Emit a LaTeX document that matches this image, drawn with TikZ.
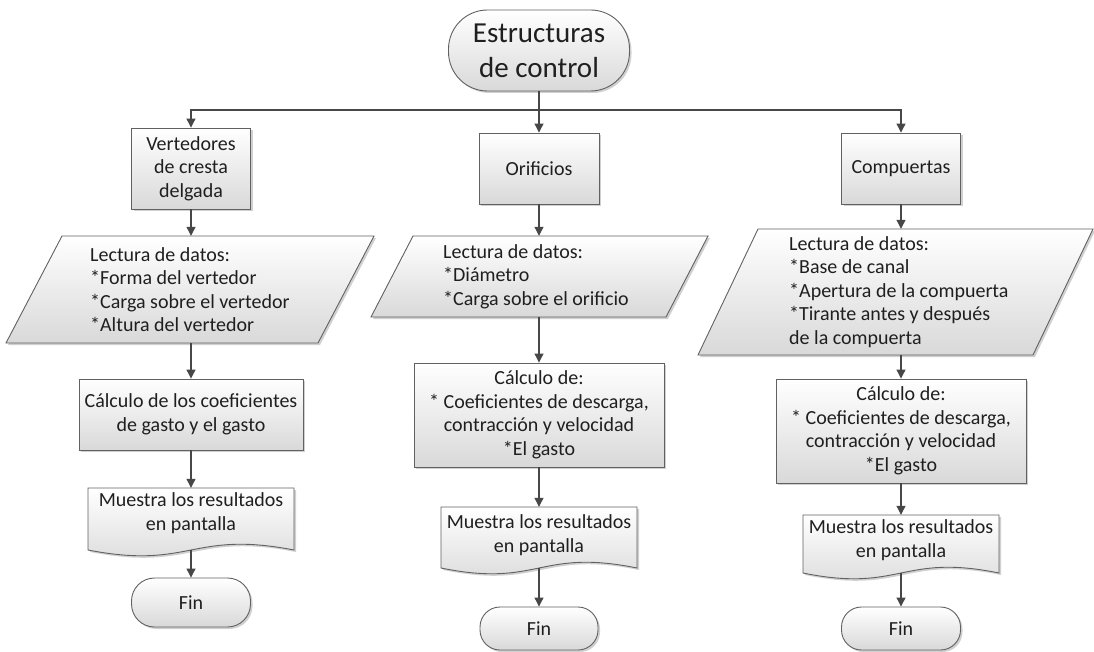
\documentclass[tikz,border=0pt]{standalone}
\usepackage{fontspec}
\setmainfont{Carlito}
\usetikzlibrary{arrows.meta,shadows,calc}
\newcommand\myBody{\fontsize{20}{23.5}\selectfont}
\newcommand\myTitle{\fontsize{29}{35}\selectfont}
\begin{document}
\begin{tikzpicture}[x=1pt,y=-1pt,
  shp/.style={draw=black!62, line width=0.9pt, top color=white, bottom color=black!15,
    drop shadow={shadow xshift=2pt,shadow yshift=-2pt,opacity=0.3,fill=black!60}},
  procbox/.style={shp, rectangle, inner sep=2pt, align=center, font=\myBody, text=black!88},
  termbox/.style={shp, rectangle, inner sep=2pt, align=center, font=\myBody, text=black!88},
  txtbox/.style={inner sep=0pt, font=\myBody, text=black!88},
  arr/.style={draw=black!72, line width=1.1pt, -{Triangle[length=9pt,width=9pt]}},
]
\useasboundingbox[fill=white] (0,0) rectangle (1094,652);

% ---- shapes drawn as paths (parallelograms, documents)
\path[shp] (62,236) -- (374,236) -- (318,343) -- (6,343) -- cycle;
\path[shp] (413,236) -- (708,236) -- (666,317) -- (371,317) -- cycle;
\path[shp] (758,229) -- (1093,229) -- (1033,355) -- (698,355) -- cycle;
\path[shp] (88,488) -- (294,488) -- (294,550) .. controls (191,530) and (191,570) .. (88,550) -- cycle;
\path[shp] (441,507) -- (637,507) -- (637,568) .. controls (539,548) and (539,588) .. (441,568) -- cycle;
\path[shp] (803,515) -- (999,515) -- (999,573) .. controls (901,553) and (901,593) .. (803,573) -- cycle;

% ---- nodes
\node[termbox, font=\myTitle, minimum width=181pt, minimum height=81pt, rounded corners=39pt] (top) at (539,50.5) {Estructuras\\de control};

\node[procbox, minimum width=119pt, minimum height=81pt] (b1) at (191,168.5) {Vertedores\\de cresta\\delgada};
\node[procbox, minimum width=120pt, minimum height=71pt] (b2) at (539,168.5) {Orificios};
\node[procbox, minimum width=119pt, minimum height=71pt] (b3) at (901,168.5) {Compuertas};

\node[txtbox, anchor=west, align=left, minimum height=107pt] (p1) at (90,289.5)
  {Lectura de datos:\\*Forma del vertedor\\*Carga sobre el vertedor\\*Altura del vertedor};
\node[txtbox, anchor=west, align=left, minimum height=81pt] (p2) at (443,276.5)
  {Lectura de datos:\\*Diámetro\\*Carga sobre el orificio};
\node[txtbox, anchor=west, align=left, minimum height=126pt] (p3) at (789,292)
  {Lectura de datos:\\*Base de canal\\*Apertura de la compuerta\\*Tirante antes y después\\de la compuerta};

\node[procbox, minimum width=224pt, minimum height=71pt] (c1) at (191,414.5) {Cálculo de los coeficientes\\de gasto y el gasto};
\node[procbox, minimum width=250pt, minimum height=104pt] (c2) at (539,415) {Cálculo de:\\* Coeficientes de descarga,\\contracción y velocidad\\*El gasto};
\node[procbox, minimum width=250pt, minimum height=104pt] (c3) at (901,431) {Cálculo de:\\* Coeficientes de descarga,\\contracción y velocidad\\*El gasto};

\node[txtbox, align=center, minimum height=50pt] (d1) at (191,513) {Muestra los resultados\\en pantalla};
\node[txtbox, align=center, minimum height=56pt] (d2) at (539,535) {Muestra los resultados\\en pantalla};
\node[txtbox, align=center, minimum height=50pt] (d3) at (901,540) {Muestra los resultados\\en pantalla};
\coordinate (d1b) at (191,550);
\coordinate (d2b) at (539,568);
\coordinate (d3b) at (901,573);

\node[termbox, minimum width=119pt, minimum height=49pt, rounded corners=23pt] (f1) at (191,602.5) {Fin};
\node[termbox, minimum width=118pt, minimum height=43pt, rounded corners=20pt] (f2) at (539,628.5) {Fin};
\node[termbox, minimum width=119pt, minimum height=43pt, rounded corners=20pt] (f3) at (901,628.5) {Fin};

% ---- connectors
\coordinate (jn) at (539,110);
\draw[arr] (top.south) -- (b2.north);
\draw[arr] (jn) -| (b1.north);
\draw[arr] (jn) -| (b3.north);

\draw[arr] (b1.south) -- (b1.south |- p1.north);
\draw[arr] (c1.north |- p1.south) -- (c1.north);
\draw[arr] (c1.south) -- (d1.north);
\draw[arr] (d1b) -- (f1.north);

\draw[arr] (b2.south) -- (b2.south |- p2.north);
\draw[arr] (c2.north |- p2.south) -- (c2.north);
\draw[arr] (c2.south) -- (d2.north);
\draw[arr] (d2b) -- (f2.north);

\draw[arr] (b3.south) -- (b3.south |- p3.north);
\draw[arr] (c3.north |- p3.south) -- (c3.north);
\draw[arr] (c3.south) -- (d3.north);
\draw[arr] (d3b) -- (f3.north);
\end{tikzpicture}
\end{document}
